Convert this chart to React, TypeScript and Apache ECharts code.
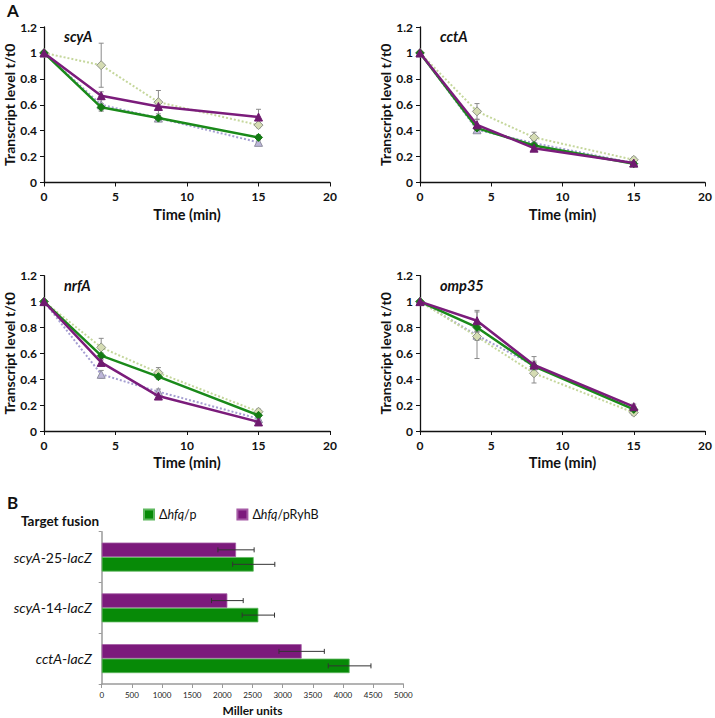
import React, { useEffect, useRef } from "react";
import * as echarts from "echarts";

const FONT = 'Lato, "Open Sans", sans-serif';

// ---------- Panel A data ----------
const times = [0, 4, 8, 15];
const panelNames = ["scyA", "cctA", "nrfA", "omp35"];

// solid green (diamond)
const greenVals = [
  [1, 0.58, 0.497, 0.348],
  [1, 0.42, 0.286, 0.145],
  [1, 0.582, 0.42, 0.121],
  [1, 0.8, 0.5, 0.167],
];
const greenErr = [
  [0, 0.03, 0.02, 0.02],
  [0, 0.02, 0.02, 0.02],
  [0, 0.02, 0.02, 0.01],
  [0, 0.03, 0.03, 0.02],
];
// solid purple (triangle)
const purpleVals = [
  [1, 0.67, 0.587, 0.505],
  [1, 0.445, 0.265, 0.15],
  [1, 0.53, 0.27, 0.07],
  [1, 0.852, 0.51, 0.188],
];
const purpleErr = [
  [0, 0.03, 0.03, 0.06],
  [0, 0.04, 0.02, 0.02],
  [0, 0.02, 0.02, 0.01],
  [0, 0.08, 0.03, 0.02],
];
// dotted light green (diamond)
const lightGreenVals = [
  [1, 0.905, 0.62, 0.443],
  [1, 0.549, 0.348, 0.175],
  [1, 0.646, 0.45, 0.149],
  [1, 0.73, 0.446, 0.142],
];
const lightGreenErr = [
  [0, 0.17, 0.09, 0.02],
  [0, 0.06, 0.04, 0.02],
  [0, 0.07, 0.04, 0.02],
  [0, 0.03, 0.075, 0.02],
];
// dotted lavender (triangle)
const lavenderVals = [
  [1, 0.6, 0.497, 0.31],
  [1, 0.407, 0.304, 0.15],
  [1, 0.438, 0.304, 0.095],
  [1, 0.74, 0.505, 0.17],
];
const lavenderErr = [
  [0, 0.04, 0.02, 0.02],
  [0, 0.02, 0.02, 0.02],
  [0, 0.03, 0.02, 0.02],
  [0, 0.18, 0.07, 0.02],
];

const yTicksMax = 1.2;
const xTicksMax = 20;

// ---------- Panel B data ----------
const fusions = ["scyA-25-lacZ", "scyA-14-lacZ", "cctA-lacZ"];
const legendGreen = "Δhfq/p";
const legendPurple = "Δhfq/pRyhB";
const barGreen = [2520, 2597, 4110];
const barGreenErr = [350, 268, 354];
const barPurple = [2227, 2083, 3315];
const barPurpleErr = [300, 263, 376];

// ---------- styling ----------
const C_GREEN = "#1a8a1a";
const C_PURPLE = "#7b1c7b";
const C_LGREEN = "#c5d79c";
const C_LAV = "#a59fd2";
const BAR_GREEN = "#078a07";
const BAR_PURPLE = "#7c1a7c";

const panelGrids = [
  { left: 44, top: 27, width: 286, height: 155.5 },
  { left: 420, top: 27, width: 286, height: 155.5 },
  { left: 44, top: 275.7, width: 286, height: 155.3 },
  { left: 420, top: 275.7, width: 286, height: 155.3 },
];
const barGrid = { left: 101.7, top: 531.7, width: 301.6, height: 152.3 };
const BAR_W = 14.5;

function errData(vals: number[], errs: number[]) {
  return times.map((t, i) => [t, vals[i] - errs[i], vals[i] + errs[i]]);
}

function lineErrRender(_p: any, api: any) {
  const x = api.value(0);
  const lo = api.value(1);
  const hi = api.value(2);
  if (!(hi - lo > 0)) return { type: "group", children: [] };
  const a = api.coord([x, hi]);
  const b = api.coord([x, lo]);
  const cap = 2.5;
  const st = { stroke: "#8a8a8a", lineWidth: 1 };
  return {
    type: "group",
    children: [
      { type: "line", shape: { x1: a[0], y1: a[1], x2: b[0], y2: b[1] }, style: st },
      { type: "line", shape: { x1: a[0] - cap, y1: a[1], x2: a[0] + cap, y2: a[1] }, style: st },
      { type: "line", shape: { x1: b[0] - cap, y1: b[1], x2: b[0] + cap, y2: b[1] }, style: st },
    ],
  };
}

function makeBarErrRender(side: number) {
  return (_p: any, api: any) => {
    const cat = api.value(0);
    const lo = api.value(1);
    const hi = api.value(2);
    const a = api.coord([lo, cat]);
    const b = api.coord([hi, cat]);
    const y = a[1] + (side * BAR_W) / 2;
    const cap = 2.5;
    const st = { stroke: "#333", lineWidth: 1 };
    return {
      type: "group",
      children: [
        { type: "line", shape: { x1: a[0], y1: y, x2: b[0], y2: y }, style: st },
        { type: "line", shape: { x1: a[0], y1: y - cap, x2: a[0], y2: y + cap }, style: st },
        { type: "line", shape: { x1: b[0], y1: y - cap, x2: b[0], y2: y + cap }, style: st },
      ],
    };
  };
}

function fusionLabel(name: string) {
  return name
    .split("-")
    .map((p) => (/^\d+$/.test(p) ? `{n|${p}}` : `{i|${p}}`))
    .join("{n|-}");
}

function legendLabel(name: string) {
  const idx = name.indexOf("hfq");
  return `{n|${name.slice(0, idx)}}{i|hfq}{n|${name.slice(idx + 3)}}`;
}

export default function App() {
  const ref = useRef<HTMLDivElement>(null);

  useEffect(() => {
    if (!ref.current) return;
    const chart = echarts.init(ref.current, undefined, { renderer: "svg" });

    const grids: any[] = [];
    const xAxes: any[] = [];
    const yAxes: any[] = [];
    const series: any[] = [];
    const graphics: any[] = [];

    panelGrids.forEach((g, k) => {
      grids.push({ ...g });
      xAxes.push({
        gridIndex: k,
        type: "value",
        min: 0,
        max: xTicksMax,
        interval: 5,
        name: "Time (min)",
        nameLocation: "middle",
        nameGap: 24,
        nameTextStyle: { fontFamily: FONT, fontWeight: "bold", fontSize: 14.5, color: "#111" },
        axisLine: { show: true, onZero: false, lineStyle: { color: "#111", width: 1.3 } },
        axisTick: { show: true, length: 4, lineStyle: { color: "#111" } },
        axisLabel: { fontFamily: FONT, fontWeight: "bold", fontSize: 12, color: "#111", margin: 8 },
        splitLine: { show: false },
      });
      yAxes.push({
        gridIndex: k,
        type: "value",
        min: 0,
        max: yTicksMax,
        interval: 0.2,
        name: "Transcript level t/t0",
        nameLocation: "middle",
        nameGap: 26,
        nameTextStyle: { fontFamily: FONT, fontWeight: "bold", fontSize: 14, color: "#111" },
        axisLine: { show: true, lineStyle: { color: "#111", width: 1.3 } },
        axisTick: { show: true, length: 4, lineStyle: { color: "#111" } },
        axisLabel: {
          fontFamily: FONT,
          fontWeight: "bold",
          fontSize: 12,
          color: "#111",
          margin: 7,
          formatter: (v: number) => String(Math.round(v * 10) / 10),
        },
        splitLine: { show: false },
      });

      const sets = [
        { vals: lavenderVals[k], errs: lavenderErr[k], color: C_LAV, dotted: true, sym: "triangle", fill: "#bdb6d9", border: "#8f8f9f", size: 8 },
        { vals: lightGreenVals[k], errs: lightGreenErr[k], color: C_LGREEN, dotted: true, sym: "diamond", fill: "#d5dcb3", border: "#8f9488", size: 9 },
        { vals: greenVals[k], errs: greenErr[k], color: C_GREEN, dotted: false, sym: "diamond", fill: "#147a14", border: "#147a14", size: 8 },
        { vals: purpleVals[k], errs: purpleErr[k], color: C_PURPLE, dotted: false, sym: "triangle", fill: "#6f1a6f", border: "#6f1a6f", size: 8 },
      ];
      sets.forEach((s) => {
        series.push({
          type: "custom",
          xAxisIndex: k,
          yAxisIndex: k,
          renderItem: lineErrRender,
          data: errData(s.vals, s.errs),
          z: 1,
          silent: true,
        });
      });
      sets.forEach((s, j) => {
        series.push({
          type: "line",
          xAxisIndex: k,
          yAxisIndex: k,
          data: times.map((t, i) => [t, s.vals[i]]),
          symbol: s.sym,
          symbolSize: s.size,
          showAllSymbol: true,
          lineStyle: { color: s.color, width: s.dotted ? 2 : 2.5, type: s.dotted ? "dotted" : "solid" },
          itemStyle: { color: s.fill, borderColor: s.border, borderWidth: 1 },
          z: 2 + j,
        });
      });

      graphics.push({
        type: "text",
        left: g.left + 20,
        top: g.top + 2,
        style: {
          text: panelNames[k],
          font: `italic bold 14.5px ${FONT}`,
          fill: "#111",
        },
      });
    });

    // Bar chart
    const bk = 4;
    grids.push({ ...barGrid });
    xAxes.push({
      gridIndex: bk,
      type: "value",
      min: 0,
      max: 5000,
      interval: 500,
      name: "Miller units",
      nameLocation: "middle",
      nameGap: 20,
      nameTextStyle: { fontFamily: FONT, fontWeight: "bold", fontSize: 12, color: "#111" },
      axisLine: { show: true, onZero: false, lineStyle: { color: "#9a9a9a", width: 1.5 } },
      axisTick: { show: true, length: 4, lineStyle: { color: "#9a9a9a" } },
      axisLabel: { fontFamily: FONT, fontSize: 8, color: "#222", margin: 7, formatter: (v: number) => String(v) },
      splitLine: { show: false },
    });
    yAxes.push({
      gridIndex: bk,
      type: "category",
      inverse: true,
      data: fusions,
      axisLine: { show: true, lineStyle: { color: "#9a9a9a", width: 1.5 } },
      axisTick: { show: true, length: 3, lineStyle: { color: "#9a9a9a" } },
      axisLabel: {
        margin: 10,
        formatter: (v: string) => fusionLabel(v),
        rich: {
          i: { fontFamily: FONT, fontStyle: "italic", fontSize: 14, color: "#111" },
          n: { fontFamily: FONT, fontSize: 14, color: "#111" },
        },
      },
    });
    series.push({
      type: "bar",
      name: legendPurple,
      xAxisIndex: bk,
      yAxisIndex: bk,
      data: barPurple,
      barWidth: BAR_W,
      barGap: "0%",
      itemStyle: { color: BAR_PURPLE, borderColor: "#a55aa5", borderWidth: 0.8 },
      z: 2,
    });
    series.push({
      type: "bar",
      name: legendGreen,
      xAxisIndex: bk,
      yAxisIndex: bk,
      data: barGreen,
      barWidth: BAR_W,
      barGap: "0%",
      itemStyle: { color: BAR_GREEN, borderColor: "#5fb85f", borderWidth: 0.8 },
      z: 2,
    });
    series.push({
      type: "custom",
      xAxisIndex: bk,
      yAxisIndex: bk,
      renderItem: makeBarErrRender(-1),
      data: barPurple.map((v, i) => [i, v - barPurpleErr[i], v + barPurpleErr[i]]),
      z: 5,
      silent: true,
    });
    series.push({
      type: "custom",
      xAxisIndex: bk,
      yAxisIndex: bk,
      renderItem: makeBarErrRender(1),
      data: barGreen.map((v, i) => [i, v - barGreenErr[i], v + barGreenErr[i]]),
      z: 5,
      silent: true,
    });

    graphics.push(
      { type: "text", left: 7, top: 2, style: { text: "A", font: `bold 17px ${FONT}`, fill: "#111" } },
      { type: "text", left: 7, top: 494, style: { text: "B", font: `bold 17px ${FONT}`, fill: "#111" } },
      { type: "text", left: 21, top: 514, style: { text: "Target fusion", font: `bold 13.5px ${FONT}`, fill: "#111" } }
    );

    chart.setOption({
      animation: false,
      backgroundColor: "#ffffff",
      grid: grids,
      xAxis: xAxes,
      yAxis: yAxes,
      series,
      graphic: graphics,
      legend: {
        data: [legendGreen, legendPurple],
        left: 138,
        top: 503,
        icon: "rect",
        itemWidth: 10,
        itemHeight: 10,
        itemGap: 40,
        formatter: (n: string) => legendLabel(n),
        textStyle: {
          fontFamily: FONT,
          fontSize: 12.5,
          color: "#111",
          rich: {
            n: { fontFamily: FONT, fontSize: 12.5, color: "#111" },
            i: { fontFamily: FONT, fontSize: 12.5, fontStyle: "italic", color: "#111" },
          },
        },
      },
    });

    return () => chart.dispose();
  }, []);

  return (
    <div
      ref={ref}
      style={{ position: "absolute", left: 0, top: 0, width: 715, height: 718, background: "#fff" }}
    />
  );
}
